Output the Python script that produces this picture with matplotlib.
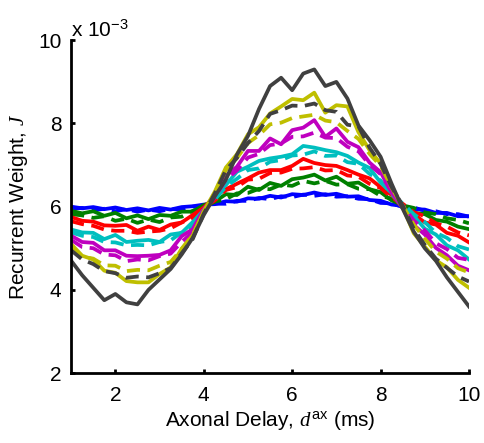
import numpy as np
import matplotlib
matplotlib.use('Agg')
import matplotlib.pyplot as plt
from matplotlib.ticker import FuncFormatter

plt.rcParams['font.family'] = ['Liberation Sans', 'DejaVu Sans']
plt.rcParams['mathtext.fontset'] = 'custom'
plt.rcParams['mathtext.rm'] = 'Liberation Sans'
plt.rcParams['mathtext.it'] = 'Liberation Serif:italic'

# axonal delay grid (ms)
delay = [1.0, 1.25, 1.5, 1.75, 2.0, 2.25, 2.5, 2.75, 3.0, 3.25, 3.5, 3.75, 4.0,
         4.25, 4.5, 4.75, 5.0, 5.25, 5.5, 5.75, 6.0, 6.25, 6.5, 6.75, 7.0, 7.25,
         7.5, 7.75, 8.0, 8.25, 8.5, 8.75, 9.0, 9.25, 9.5, 9.75, 10.0]

# recurrent weights, in units of 1e-3
blue_solid = [6.00, 5.96, 5.99, 5.94, 5.98, 5.92, 5.96, 5.91, 5.97, 5.93, 5.99, 6.01, 6.05,
              6.06, 6.13, 6.12, 6.20, 6.19, 6.26, 6.22, 6.30, 6.28, 6.34, 6.28, 6.31, 6.24,
              6.25, 6.16, 6.14, 6.05, 6.02, 5.94, 5.93, 5.85, 5.85, 5.77, 5.77]
blue_dash = [5.95, 5.97, 5.91, 5.95, 5.89, 5.94, 5.88, 5.93, 5.89, 5.95, 5.92, 6.00, 6.01,
             6.07, 6.07, 6.14, 6.14, 6.21, 6.18, 6.25, 6.23, 6.29, 6.26, 6.30, 6.24, 6.25,
             6.19, 6.18, 6.09, 6.08, 5.99, 5.98, 5.90, 5.89, 5.82, 5.82, 5.76]
green_solid = [5.90, 5.84, 5.89, 5.78, 5.85, 5.72, 5.79, 5.70, 5.80, 5.78, 5.88, 5.88, 6.04,
               6.12, 6.30, 6.28, 6.48, 6.40, 6.57, 6.50, 6.66, 6.70, 6.77, 6.63, 6.72, 6.55,
               6.58, 6.42, 6.35, 6.15, 6.04, 5.85, 5.82, 5.68, 5.64, 5.52, 5.46]
green_dash = [5.82, 5.79, 5.73, 5.77, 5.66, 5.71, 5.61, 5.69, 5.63, 5.74, 5.76, 5.90, 5.98,
              6.12, 6.18, 6.32, 6.33, 6.43, 6.42, 6.53, 6.50, 6.62, 6.56, 6.62, 6.53, 6.54,
              6.43, 6.42, 6.26, 6.19, 6.03, 5.97, 5.86, 5.82, 5.72, 5.68, 5.60]
red_solid = [5.75, 5.66, 5.64, 5.55, 5.54, 5.56, 5.42, 5.52, 5.44, 5.57, 5.62, 5.80, 5.98,
             6.25, 6.42, 6.55, 6.68, 6.82, 6.88, 6.88, 6.98, 7.15, 7.05, 7.00, 6.98, 6.88,
             6.77, 6.68, 6.47, 6.28, 5.97, 5.82, 5.62, 5.57, 5.37, 5.30, 5.14]
red_dash = [5.65, 5.58, 5.54, 5.45, 5.42, 5.42, 5.37, 5.40, 5.42, 5.48, 5.62, 5.73, 5.97,
            6.15, 6.40, 6.47, 6.65, 6.67, 6.81, 6.82, 6.91, 6.92, 6.95, 6.87, 6.88, 6.75,
            6.72, 6.55, 6.45, 6.22, 6.07, 5.87, 5.77, 5.60, 5.52, 5.38, 5.31]
cyan_solid = [5.45, 5.38, 5.37, 5.22, 5.32, 5.15, 5.18, 5.20, 5.15, 5.33, 5.37, 5.63, 5.92,
              6.28, 6.52, 6.84, 6.96, 7.10, 7.16, 7.20, 7.26, 7.46, 7.42, 7.36, 7.31, 7.22,
              7.06, 6.93, 6.58, 6.33, 5.97, 5.78, 5.47, 5.33, 5.07, 4.95, 4.73]
cyan_dash = [5.38, 5.30, 5.27, 5.15, 5.14, 5.07, 5.08, 5.07, 5.15, 5.19, 5.38, 5.52, 5.93,
             6.17, 6.48, 6.67, 6.88, 6.92, 7.08, 7.12, 7.23, 7.25, 7.33, 7.22, 7.23, 7.07,
             7.03, 6.79, 6.63, 6.29, 6.08, 5.82, 5.63, 5.37, 5.25, 5.05, 4.97]
mag_solid = [5.30, 5.15, 5.13, 4.95, 4.95, 4.82, 4.81, 4.82, 4.84, 4.95, 5.29, 5.46, 5.94,
             6.26, 6.74, 6.96, 7.34, 7.34, 7.64, 7.50, 7.84, 7.90, 8.08, 7.68, 7.88, 7.56,
             7.43, 7.06, 6.83, 6.34, 5.98, 5.56, 5.33, 5.01, 4.83, 4.58, 4.47]
mag_dash = [5.20, 5.03, 5.00, 4.85, 4.83, 4.69, 4.73, 4.71, 4.81, 4.87, 5.15, 5.39, 5.88,
            6.22, 6.65, 6.87, 7.18, 7.27, 7.48, 7.52, 7.68, 7.69, 7.78, 7.66, 7.65, 7.44,
            7.33, 7.01, 6.78, 6.36, 6.03, 5.67, 5.43, 5.12, 4.98, 4.77, 4.72]
yel_solid = [5.10, 4.82, 4.73, 4.46, 4.41, 4.21, 4.18, 4.18, 4.38, 4.54, 4.99, 5.31, 5.89,
             6.36, 6.94, 7.26, 7.74, 7.91, 8.24, 8.41, 8.59, 8.56, 8.74, 8.26, 8.44, 8.41,
             7.79, 7.36, 7.04, 6.46, 5.99, 5.36, 5.04, 4.71, 4.54, 4.24, 4.05]
yel_dash = [5.00, 4.80, 4.75, 4.59, 4.58, 4.45, 4.48, 4.47, 4.58, 4.67, 4.98, 5.32, 5.88,
            6.32, 6.88, 7.17, 7.53, 7.72, 7.98, 8.02, 8.13, 8.17, 8.21, 8.07, 8.03, 7.82,
            7.63, 7.27, 6.98, 6.47, 6.03, 5.57, 5.23, 4.92, 4.75, 4.52, 4.42]
gray_dash = [4.95, 4.73, 4.62, 4.45, 4.40, 4.29, 4.32, 4.30, 4.40, 4.52, 4.88, 5.22, 5.83,
             6.32, 6.88, 7.17, 7.53, 7.82, 8.23, 8.32, 8.43, 8.42, 8.48, 8.32, 8.28, 7.97,
             7.93, 7.42, 7.03, 6.47, 6.03, 5.47, 5.08, 4.75, 4.53, 4.32, 4.20]
gray_solid = [4.70, 4.35, 4.05, 3.75, 3.90, 3.70, 3.65, 4.00, 4.25, 4.50, 4.85, 5.25, 5.80,
              6.25, 6.65, 7.25, 7.70, 8.35, 8.90, 9.10, 8.80, 9.20, 9.30, 8.90, 9.00, 8.60,
              7.95, 7.60, 7.20, 6.55, 5.95, 5.40, 5.00, 4.70, 4.30, 3.95, 3.60]

series = [
    (blue_solid, (0, 0, 1), '-'), (blue_dash, (0, 0, 1), '--'),
    (green_solid, (0, 0.5, 0), '-'), (green_dash, (0, 0.5, 0), '--'),
    (red_solid, (1, 0, 0), '-'), (red_dash, (1, 0, 0), '--'),
    (cyan_solid, (0, 0.75, 0.75), '-'), (cyan_dash, (0, 0.75, 0.75), '--'),
    (mag_solid, (0.75, 0, 0.75), '-'), (mag_dash, (0.75, 0, 0.75), '--'),
    (yel_solid, (0.75, 0.75, 0), '-'), (yel_dash, (0.75, 0.75, 0), '--'),
    (gray_solid, (0.25, 0.25, 0.25), '-'), (gray_dash, (0.25, 0.25, 0.25), '--'),
]

fig = plt.figure(figsize=(4.84, 4.43), dpi=100)
ax = fig.add_axes([0.147, 0.158, 0.822, 0.751])

x = np.array(delay)
for vals, col, ls in series:
    line, = ax.plot(x, np.array(vals) * 1e-3, color=col, linestyle=ls, linewidth=2.7)
    if ls == '--':
        line.set_dashes((3.5, 2.0))

ax.set_xlim(1, 10)
ax.set_ylim(2e-3, 10e-3)
ax.set_xticks([2, 4, 6, 8, 10])
ax.set_yticks([2e-3, 4e-3, 6e-3, 8e-3, 10e-3])
ax.yaxis.set_major_formatter(FuncFormatter(lambda v, p: '%g' % round(v * 1e3)))

for s in ['top', 'right']:
    ax.spines[s].set_visible(False)
for s in ['left', 'bottom']:
    ax.spines[s].set_linewidth(2)
ax.tick_params(direction='in', length=3, width=2, labelsize=15)
ax.tick_params(axis='x', pad=9)
ax.tick_params(axis='y', pad=7)

ax.set_xlabel(r'Axonal Delay, $d^{\mathrm{ax}}$ (ms)', fontsize=15, labelpad=3)
ax.set_ylabel(r'Recurrent Weight, $J$', fontsize=15, labelpad=6)
ax.text(0.0, 1.0, r'x 10$^{-3}$', transform=ax.transAxes, fontsize=15,
        ha='left', va='bottom')

fig.savefig('out.png', dpi=100)
